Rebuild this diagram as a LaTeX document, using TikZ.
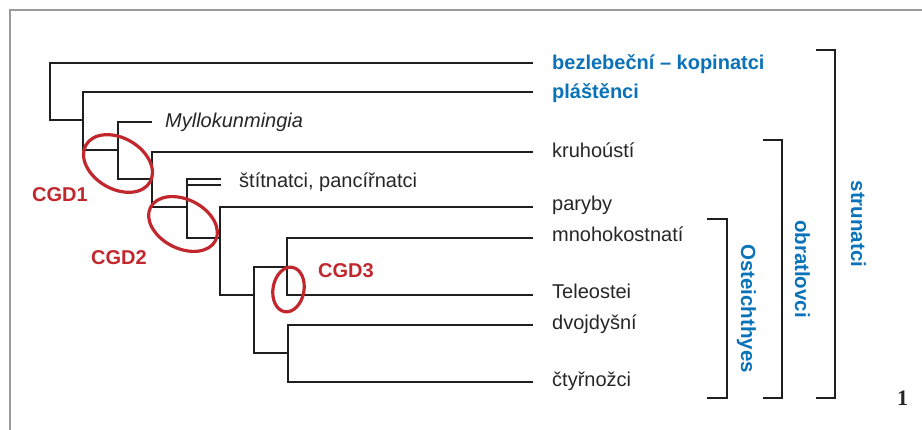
\documentclass[tikz,border=0pt]{standalone}
\usepackage{fontspec}
\setmainfont{Liberation Sans}
\newfontfamily\numfont{Liberation Serif}
\definecolor{cblue}{HTML}{0A72B8}
\definecolor{cred}{HTML}{C1272D}
\definecolor{frame}{HTML}{9A9A9A}
\begin{document}
\begin{tikzpicture}[x=1pt,y=-1pt,
  branch/.style={line width=2.8pt,draw=black!88},
  brk/.style={line width=2.8pt,draw=black!88},
  taxon/.style={anchor=base west,inner sep=0pt,font=\fontsize{20}{24}\selectfont,text=black!85},
  group/.style={anchor=base west,inner sep=0pt,font=\fontsize{20}{24}\selectfont\bfseries,text=cblue},
  clade/.style={anchor=base,inner sep=0pt,rotate=-90,font=\fontsize{20.5}{24}\selectfont\bfseries,text=cblue},
  cgd/.style={anchor=base west,inner sep=0pt,font=\fontsize{20}{24}\selectfont\bfseries,text=cred},
  ring/.style={draw=cred,line width=3.2pt}]
\useasboundingbox (0,0) rectangle (922,430);
% frame
\draw[frame,line width=1.5pt] (922,10) -- (10,10) -- (10,430);
% internal nodes
\coordinate (root) at (50,91.5);
\coordinate (c2) at (83,120);
\coordinate (c3) at (118,150);
\coordinate (c4) at (152,179);
\coordinate (c5) at (187,207);
\coordinate (c6) at (220,238);
\coordinate (c7) at (254,295);
\coordinate (c8) at (287,267);
\coordinate (c9) at (288,353);
% leaf ends
\coordinate (l1) at (533,63);
\coordinate (l2) at (533,92);
\coordinate (lM) at (152,122);
\coordinate (l4) at (533,152);
\coordinate (lS1) at (221,179);
\coordinate (lS2) at (221,185);
\coordinate (l6) at (533,207);
\coordinate (l8a) at (533,238);
\coordinate (l8b) at (533,295);
\coordinate (l9a) at (533,325);
\coordinate (l9b) at (533,382);
% tree
\draw[branch] (l1) -| (root) |- (c2);
\draw[branch] (l2) -| (c2) |- (c3);
\draw[branch] (lM) -| (c3) |- (c4);
\draw[branch] (l4) -| (c4) |- (c5);
\draw[branch] (lS1) -| (c5) |- (c6);
\draw[branch] (lS2) -| (c5);
\draw[branch] (l6) -| (c6) |- (c7);
\draw[branch] (c8) -| (c7) |- (c9);
\draw[branch] (l8a) -| (c8) |- (l8b);
\draw[branch] (l9a) -| (c9) |- (l9b);
% labels
\node[group] (t1) at (552,70) {bezlebeční – kopinatci};
\node[group] (t2) at (552,99) {pláštěnci};
\node[taxon,font=\fontsize{20}{24}\selectfont\itshape] (tM) at (165,128) {Myllokunmingia};
\node[taxon] (t4) at (552,158) {kruhoústí};
\node[taxon] (tS) at (239,188) {štítnatci, pancířnatci};
\node[taxon] (t6) at (552,211) {paryby};
\node[taxon] (t8a) at (552,242) {mnohokostnatí};
\node[taxon] (t8b) at (552,299) {Teleostei};
\node[taxon] (t9a) at (552,330) {dvojdyšní};
\node[taxon] (t9b) at (552,387) {čtyřnožci};
% CGD rings
\draw[ring,rotate around={-30:(118,163.5)}] (118,163.5) ellipse [x radius=37,y radius=25.5];
\draw[ring,rotate around={-27:(183,224)}] (183,224) ellipse [x radius=36.5,y radius=24.5];
\draw[ring,rotate around={-10:(288.5,289.5)}] (288.5,289.5) ellipse [x radius=15.5,y radius=22.5];
\node[cgd] (g1) at (32,202) {CGD1};
\node[cgd] (g2) at (91,265) {CGD2};
\node[cgd] (g3) at (318,278) {CGD3};
% brackets
\coordinate (sT) at (816,50);
\coordinate (sB) at (816,398);
\coordinate (oT) at (763,140);
\coordinate (oB) at (763,398);
\coordinate (eT) at (707,219);
\coordinate (eB) at (707,398);
\draw[brk] (sT) -- ++(19,0) |- (sB);
\draw[brk] (oT) -- ++(19,0) |- (oB);
\draw[brk] (eT) -- ++(20,0) |- (eB);
\node[clade] (ls) at (851,224) {strunatci};
\node[clade] (lo) at (795,269) {obratlovci};
\node[clade] (le) at (741,308.5) {Osteichthyes};
% figure number
\node[anchor=base,inner sep=0pt,font=\numfont\fontsize{22}{26}\selectfont\bfseries,text=black!85] (num) at (902.5,406) {1};
\end{tikzpicture}
\end{document}
